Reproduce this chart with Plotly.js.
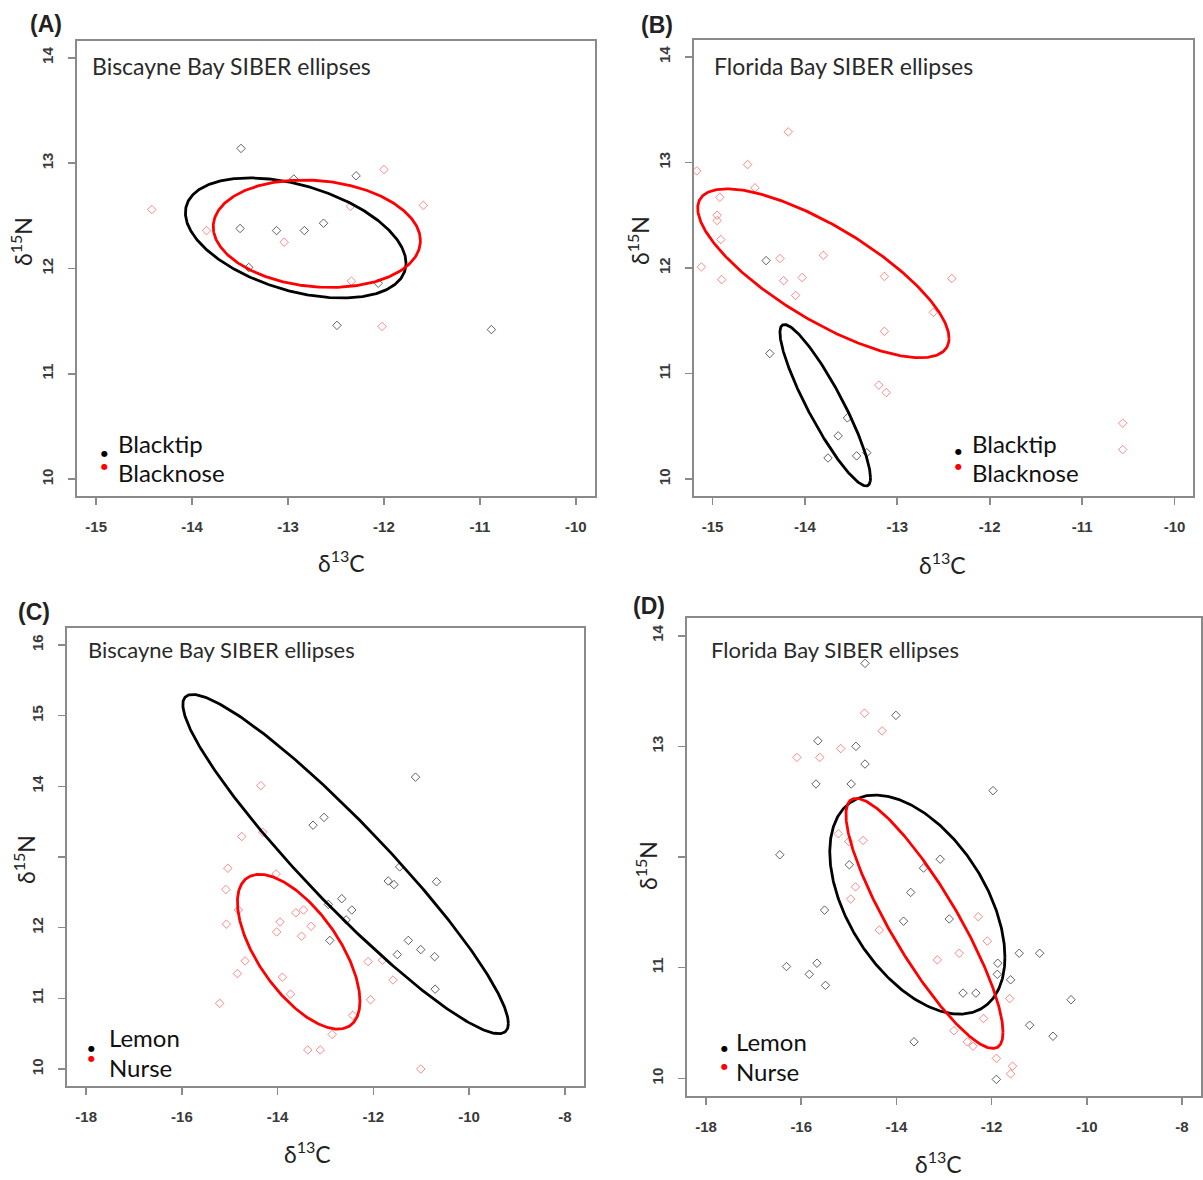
<!DOCTYPE html>
<html><head><meta charset="utf-8">
<script src="https://cdn.plot.ly/plotly-3.0.1.min.js"></script>
<style>html,body{margin:0;padding:0;background:#fff}#chart{width:1203px;height:1180px}</style>
</head><body><div id="chart"></div>
<script>
// ---------- Panel A: Biscayne Bay, Blacktip vs Blacknose ----------
const A_blacktip_x = [-13.49, -13.50, -13.12, -12.83, -12.63, -13.41, -12.94, -12.29, -12.06, -12.49, -10.88];
const A_blacktip_y = [13.14, 12.38, 12.36, 12.36, 12.43, 12.01, 12.85, 12.88, 11.86, 11.46, 11.42];
const A_blacknose_x = [-14.42, -13.85, -13.04, -12.35, -12.00, -11.59, -12.34, -12.02];
const A_blacknose_y = [12.56, 12.36, 12.25, 12.59, 12.94, 12.60, 11.88, 11.45];
// ellipse: [centre x, centre y, half-width, half-height, correlation]
const A_blacktip_ellipse = [-12.92, 12.29, 1.15, 0.57, -0.42];
const A_blacknose_ellipse = [-12.70, 12.33, 1.08, 0.51, -0.13];

// ---------- Panel B: Florida Bay, Blacktip vs Blacknose ----------
const B_blacktip_x = [-14.42, -14.38, -13.54, -13.64, -13.75, -13.44, -13.33];
const B_blacktip_y = [12.07, 11.19, 10.58, 10.41, 10.20, 10.22, 10.25];
const B_blacknose_x = [-15.17, -14.62, -14.18, -14.54, -14.92, -14.95, -14.95, -14.91, -15.12, -14.90, -14.27, -14.23, -14.03, -14.10, -13.80, -13.14, -12.41, -12.61, -13.14, -13.20, -13.12, -10.56, -10.56];
const B_blacknose_y = [12.92, 12.98, 13.29, 12.76, 12.67, 12.50, 12.45, 12.27, 12.01, 11.89, 12.09, 11.88, 11.91, 11.74, 12.12, 11.92, 11.90, 11.58, 11.40, 10.89, 10.82, 10.53, 10.28];
const B_blacktip_ellipse = [-13.78, 10.70, 0.49, 0.765, -0.90];
const B_blacknose_ellipse = [-13.80, 11.95, 1.36, 0.80, -0.77];

// ---------- Panel C: Biscayne Bay, Lemon vs Nurse ----------
const C_lemon_x = [-11.12, -13.26, -13.03, -11.45, -11.69, -11.57, -10.68, -12.94, -12.66, -12.45, -12.57, -12.91, -11.27, -11.01, -11.50, -10.72, -10.71];
const C_lemon_y = [14.13, 13.45, 13.56, 12.86, 12.66, 12.61, 12.65, 12.33, 12.41, 12.25, 12.11, 11.82, 11.82, 11.69, 11.62, 11.59, 11.13];
const C_nurse_x = [-14.35, -14.31, -14.75, -15.04, -15.08, -14.82, -15.07, -14.03, -13.62, -13.46, -13.95, -13.30, -14.02, -13.50, -14.68, -14.84, -13.90, -13.73, -15.21, -12.11, -11.81, -11.59, -12.06, -12.43, -12.86, -13.37, -13.11, -11.01];
const C_nurse_y = [14.01, 13.35, 13.29, 12.84, 12.54, 12.25, 12.05, 12.76, 12.21, 12.25, 12.08, 12.02, 11.94, 11.88, 11.53, 11.35, 11.30, 11.06, 10.93, 11.52, 11.54, 11.26, 10.98, 10.76, 10.49, 10.27, 10.27, 10.00];
const C_lemon_ellipse = [-12.58, 12.90, 3.40, 2.40, -0.94];
const C_nurse_ellipse = [-13.56, 11.66, 1.28, 1.095, -0.64];

// ---------- Panel D: Florida Bay, Lemon vs Nurse ----------
const D_lemon_x = [-14.66, -14.01, -15.65, -14.85, -14.66, -15.69, -14.95, -11.97, -16.45, -14.99, -13.43, -13.08, -13.70, -15.51, -13.85, -12.89, -11.42, -10.99, -11.87, -11.88, -11.60, -16.31, -15.67, -15.83, -15.49, -12.60, -12.33, -10.33, -11.20, -10.71, -13.63, -11.90];
const D_lemon_y = [13.75, 13.28, 13.05, 13.00, 12.84, 12.66, 12.66, 12.60, 12.02, 11.93, 11.90, 11.98, 11.68, 11.52, 11.42, 11.44, 11.13, 11.13, 11.04, 10.94, 10.89, 11.01, 11.04, 10.94, 10.84, 10.77, 10.77, 10.71, 10.48, 10.38, 10.33, 9.99];
const D_nurse_x = [-14.67, -14.30, -15.17, -16.09, -15.61, -15.22, -14.70, -15.00, -14.86, -14.96, -14.36, -12.28, -12.09, -12.68, -13.14, -11.62, -12.17, -12.79, -12.51, -12.39, -11.90, -11.56, -11.60];
const D_nurse_y = [13.30, 13.14, 12.98, 12.90, 12.90, 12.21, 12.15, 12.14, 11.73, 11.62, 11.34, 11.46, 11.24, 11.13, 11.07, 10.72, 10.54, 10.43, 10.33, 10.29, 10.18, 10.11, 10.04];
const D_lemon_ellipse = [-13.56, 11.57, 1.84, 0.99, -0.48];
const D_nurse_ellipse = [-13.41, 11.40, 1.65, 1.13, -0.87];

// ---------- ticks and texts ----------
const xticks_AB = [-15, -14, -13, -12, -11, -10];
const xticks_CD = [-18, -16, -14, -12, -10, -8];
const yticks_AB = [10, 11, 12, 13, 14];
const yticks_C = [10, 11, 12, 14, 15, 16];
const yticks_D = [10, 11, 13, 14];
const yticks_C_unlabelled = [13];
const yticks_D_unlabelled = [12];
const panelTitles = ['Biscayne Bay SIBER ellipses', 'Florida Bay SIBER ellipses', 'Biscayne Bay SIBER ellipses', 'Florida Bay SIBER ellipses'];
const panelLetters = ['(A)', '(B)', '(C)', '(D)'];
const groupNames = [['Blacktip', 'Blacknose'], ['Blacktip', 'Blacknose'], ['Lemon', 'Nurse'], ['Lemon', 'Nurse']];

// ---------- drawing ----------
const W = 1203, H = 1180;
const px = v => v / W, py = v => 1 - v / H;
const BLACKPT = 'rgba(30,30,30,0.7)', REDPT = 'rgba(255,40,40,0.55)';
const LINEGREY = '#8a8a8a';

function ellipsePts(p) {
  const [cx, cy, rx, ry, rho] = p;
  const phi = Math.acos(rho);
  const xs = [], ys = [];
  for (let i = 0; i <= 360; i++) {
    const t = 2 * Math.PI * i / 360;
    xs.push(cx + rx * Math.cos(t));
    ys.push(cy + ry * Math.cos(t - phi));
  }
  return {x: xs, y: ys};
}
function pts(x, y, col, ax) {
  return {x: x, y: y, mode: 'markers', type: 'scatter', xaxis: 'x' + ax, yaxis: 'y' + ax,
    marker: {symbol: 'diamond-open', size: 6.5, color: col, line: {width: 1, color: col}}, hoverinfo: 'skip'};
}
function ell(p, col, ax) {
  const e = ellipsePts(p);
  return {x: e.x, y: e.y, mode: 'lines', type: 'scatter', xaxis: 'x' + ax, yaxis: 'y' + ax,
    line: {color: col, width: 2.8}, hoverinfo: 'skip'};
}
const traces = [
  pts(A_blacktip_x, A_blacktip_y, BLACKPT, ''), pts(A_blacknose_x, A_blacknose_y, REDPT, ''),
  ell(A_blacktip_ellipse, '#000', ''), ell(A_blacknose_ellipse, '#ff0000', ''),
  pts(B_blacktip_x, B_blacktip_y, BLACKPT, '2'), pts(B_blacknose_x, B_blacknose_y, REDPT, '2'),
  ell(B_blacktip_ellipse, '#000', '2'), ell(B_blacknose_ellipse, '#ff0000', '2'),
  pts(C_lemon_x, C_lemon_y, BLACKPT, '3'), pts(C_nurse_x, C_nurse_y, REDPT, '3'),
  ell(C_lemon_ellipse, '#000', '3'), ell(C_nurse_ellipse, '#ff0000', '3'),
  pts(D_lemon_x, D_lemon_y, BLACKPT, '4'), pts(D_nurse_x, D_nurse_y, REDPT, '4'),
  ell(D_lemon_ellipse, '#000', '4'), ell(D_nurse_ellipse, '#ff0000', '4')
];

function axis(dom, range, vals, anchor, isY, unlabelled) {
  const a = {domain: dom, range: range, tickmode: 'array', tickvals: vals, ticktext: vals.map(v => String(v)), anchor: anchor,
    showgrid: false, zeroline: false, showline: true, mirror: true, linecolor: LINEGREY, linewidth: 1.8,
    ticks: 'outside', ticklen: 7, tickwidth: 1.6, tickcolor: LINEGREY, ticklabelstandoff: 9,
    tickfont: {family: 'Liberation Sans, Arial, sans-serif', size: 15, color: '#3a3a3a', weight: 'bold'},
    tickangle: isY ? -90 : 0, fixedrange: true};
  if (unlabelled) {
    a.minor = {tickmode: 'array', tickvals: unlabelled, ticks: 'outside', ticklen: 7, tickwidth: 1.6, tickcolor: LINEGREY, showgrid: false};
  }
  return a;
}
// plot boxes in pixels [left, right, top, bottom]
const boxes = [[77, 595, 41, 496], [694, 1193, 40, 496], [67, 584, 628, 1086], [687, 1201, 618, 1096]];
const xr = [[-15.2, -9.8], [-15.2, -9.8], [-18.4, -7.6], [-18.4, -7.6]];
const yr = [[9.84, 14.16], [9.84, 14.16], [9.76, 16.24], [9.84, 14.16]];
const xt = [xticks_AB, xticks_AB, xticks_CD, xticks_CD];
const yt = [yticks_AB, yticks_AB, yticks_C, yticks_D];
const yu = [null, null, yticks_C_unlabelled, yticks_D_unlabelled];

const layout = {width: W, height: H, margin: {l: 0, r: 0, t: 0, b: 0}, paper_bgcolor: '#fff', plot_bgcolor: '#fff',
  showlegend: false, hovermode: false, annotations: []};
for (let i = 0; i < 4; i++) {
  const b = boxes[i], s = i === 0 ? '' : String(i + 1);
  layout['xaxis' + s] = axis([px(b[0]), px(b[1])], xr[i], xt[i], 'y' + s, false, null);
  layout['yaxis' + s] = axis([py(b[3]), py(b[2])], yr[i], yt[i], 'x' + s, true, yu[i]);
}

const A = layout.annotations;
function ann(text, x, y, o) {
  A.push(Object.assign({text: text, x: px(x), y: py(y), xref: 'paper', yref: 'paper', showarrow: false,
    xanchor: 'left', yanchor: 'middle', font: {family: 'Lato, Noto Sans, sans-serif', size: 20, color: '#222'}}, o || {}));
}
// panel letters
const letterPos = [[46, 24], [657, 25], [34, 612], [649, 606]];
// inner titles (left x, middle y) and font sizes
const titlePos = [[90, 66], [712, 66], [86, 649], [709, 649]];
const titleSize = [23, 23, 22, 22];
// axis titles: x-title centre, y-title centre
const xTitlePos = [[341, 561], [942, 563], [307, 1152], [938, 1162]];
const yTitlePos = [[22, 242], [639, 241], [25, 860], [646, 866]];
// legend: text left x, first text y, second text y, dot x, dot1 y, dot2 y
const legPos = [[116, 443, 473, 104, 453, 467], [970, 443, 473, 958, 451, 467], [107, 1037, 1067, 91, 1048, 1058], [734, 1041, 1071, 724, 1048, 1066]];
for (let i = 0; i < 4; i++) {
  ann('<b>' + panelLetters[i] + '</b>', letterPos[i][0], letterPos[i][1],
    {xanchor: 'center', font: {family: 'Liberation Sans, Arial, sans-serif', size: 23, color: '#222'}});
  ann(panelTitles[i], titlePos[i][0], titlePos[i][1], {font: {family: 'Lato, sans-serif', size: titleSize[i], color: '#2a2a2a'}});
  ann('\u03b4<sup>13</sup>C', xTitlePos[i][0], xTitlePos[i][1], {xanchor: 'center', font: {family: 'Lato, sans-serif', size: 23, color: '#222'}});
  ann('\u03b4<sup>15</sup>N', yTitlePos[i][0], yTitlePos[i][1], {xanchor: 'center', textangle: -90, font: {family: 'Lato, sans-serif', size: 23, color: '#222'}});
  const L = legPos[i];
  ann(groupNames[i][0], L[0], L[1], {font: {family: 'Lato, sans-serif', size: 24, color: '#111'}});
  ann(groupNames[i][1], L[0], L[2], {font: {family: 'Lato, sans-serif', size: 24, color: '#111'}});
  ann('\u25cf', L[3], L[4], {xanchor: 'center', font: {family: 'DejaVu Sans', size: 8, color: '#000'}});
  ann('\u25cf', L[3], L[5], {xanchor: 'center', font: {family: 'DejaVu Sans', size: 8, color: '#ff0000'}});
}

Plotly.newPlot('chart', traces, layout, {staticPlot: true, displayModeBar: false});
</script>
</body></html>
